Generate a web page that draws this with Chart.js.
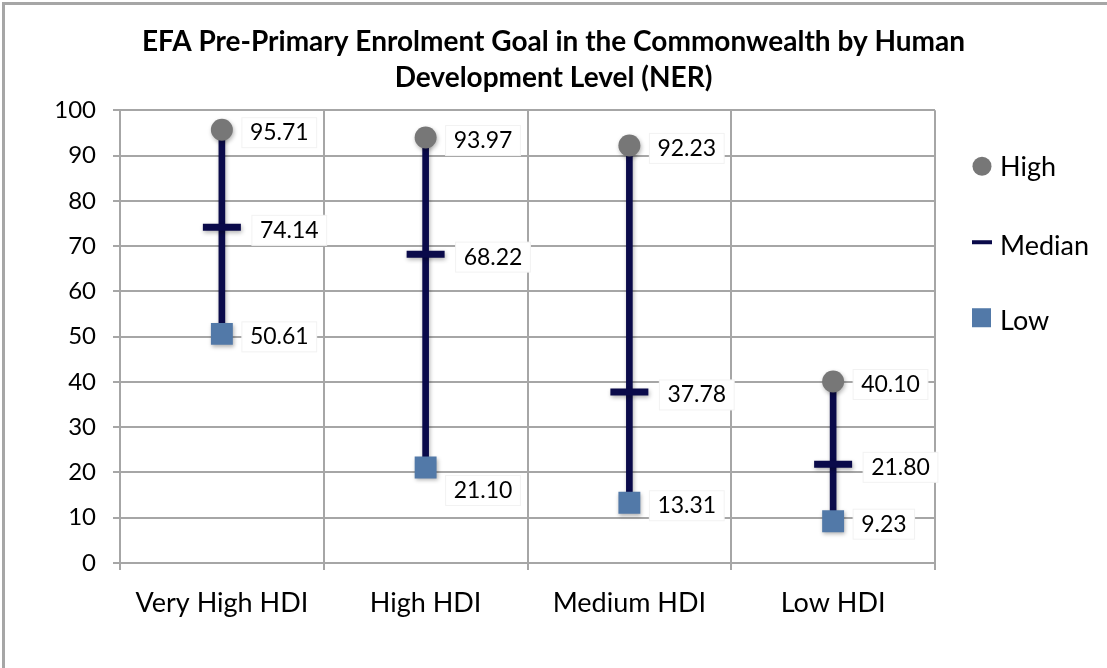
<!DOCTYPE html>
<html>
<head>
<meta charset="utf-8">
<script src="https://cdn.jsdelivr.net/npm/chart.js@4/dist/chart.umd.min.js"></script>
<style>
  html, body { margin: 0; padding: 0; background: #fff; overflow: hidden; }
  #frame {
    position: absolute; left: 2px; top: 2px; width: 1200px; height: 800px;
    border-top: 3px solid #a6a6a6; border-left: 3px solid #a6a6a6;
  }
  #chart { position: absolute; left: 0; top: 0; }
</style>
</head>
<body>
<div id="frame"></div>
<canvas id="chart" width="1107" height="668"></canvas>
<script>
// données
const categories = ['Very High HDI', 'High HDI', 'Medium HDI', 'Low HDI'];
const highValues = [95.71, 93.97, 92.23, 40.10];
const medianValues = [74.14, 68.22, 37.78, 21.80];
const lowValues = [50.61, 21.10, 13.31, 9.23];
const yMin = 0, yMax = 100, yStep = 10;

const NAVY = '#0a0a4a';
const GREY = '#777777';
const BLUE = '#5279a8';
const GRID = '#a6a6a6';
const FONT = 'Lato, "Open Sans", sans-serif';

// ombre légère sous les marqueurs
const softShadow = {
  id: 'softShadow',
  beforeDatasetsDraw(chart) {
    const c = chart.ctx;
    c.save();
    c.shadowColor = 'rgba(0, 0, 0, 0.3)';
    c.shadowBlur = 4;
    c.shadowOffsetX = 1;
    c.shadowOffsetY = 2;
  },
  afterDatasetsDraw(chart) {
    chart.ctx.restore();
  }
};

// étiquettes de valeurs avec fond blanc
const valueLabels = {
  id: 'valueLabels',
  afterDatasetsDraw(chart) {
    const ctx = chart.ctx;
    ctx.save();
    ctx.font = '23px ' + FONT;
    ctx.textBaseline = 'middle';
    chart.data.datasets.forEach((ds, di) => {
      if (ds.type === 'bar') return;
      const meta = chart.getDatasetMeta(di);
      meta.data.forEach((pt, i) => {
        const txt = ds.data[i].toFixed(2);
        let x = pt.x + (ds.label === 'Median' ? 38 : 28);
        let y = pt.y + 3;
        // 21.10 est poussé sous le point
        if (ds.label === 'Low' && i === 1) y = pt.y + 23;
        const w = ctx.measureText(txt).width;
        ctx.fillStyle = '#ffffff';
        ctx.fillRect(x - 8, y - 15, w + 16, 30);
        ctx.strokeStyle = '#f2f2f2';
        ctx.lineWidth = 1;
        ctx.strokeRect(x - 8, y - 15, w + 16, 30);
        ctx.fillStyle = '#000';
        ctx.fillText(txt, x, y);
      });
    });
    ctx.restore();
  }
};

// légende à droite
const sideLegend = {
  id: 'sideLegend',
  afterDraw(chart) {
    const ctx = chart.ctx;
    const a = chart.chartArea;
    const mx = a.right + 47;
    const tx = a.right + 65;
    const rows = [
      { label: 'High', y: a.top + 57 },
      { label: 'Median', y: a.top + 136 },
      { label: 'Low', y: a.top + 211 }
    ];
    ctx.save();
    rows.forEach(r => {
      if (r.label === 'High') {
        ctx.fillStyle = GREY;
        ctx.beginPath();
        ctx.arc(mx, r.y - 1, 9.5, 0, Math.PI * 2);
        ctx.fill();
      } else if (r.label === 'Median') {
        ctx.fillStyle = NAVY;
        ctx.fillRect(mx - 10, r.y - 6, 20, 4);
      } else {
        ctx.fillStyle = BLUE;
        ctx.fillRect(mx - 10, r.y - 13, 19, 19);
      }
      ctx.fillStyle = '#000';
      ctx.font = '27px ' + FONT;
      ctx.textBaseline = 'middle';
      ctx.fillText(r.label, tx, r.y);
    });
    ctx.restore();
  }
};

const ctx = document.getElementById('chart').getContext('2d');
new Chart(ctx, {
  data: {
    labels: categories,
    datasets: [
      {
        type: 'scatter',
        label: 'High',
        data: highValues,
        showLine: false,
        pointStyle: 'circle',
        pointRadius: 11,
        pointHoverRadius: 11,
        pointBackgroundColor: GREY,
        pointBorderWidth: 0,
        order: 1
      },
      {
        type: 'scatter',
        label: 'Median',
        data: medianValues,
        showLine: false,
        pointStyle: 'line',
        pointRadius: 19,
        pointHoverRadius: 19,
        pointBorderColor: NAVY,
        pointBorderWidth: 7,
        order: 2
      },
      {
        type: 'scatter',
        label: 'Low',
        data: lowValues,
        showLine: false,
        pointStyle: 'rect',
        pointRadius: 15.5,
        pointHoverRadius: 15.5,
        pointBackgroundColor: BLUE,
        pointBorderWidth: 0,
        order: 0
      },
      {
        type: 'bar',
        label: 'range',
        data: lowValues.map((lo, i) => [lo, highValues[i]]),
        backgroundColor: NAVY,
        barThickness: 6,
        order: 5
      }
    ]
  },
  options: {
    responsive: false,
    animation: false,
    devicePixelRatio: 1,
    layout: { padding: 0 },
    plugins: {
      legend: { display: false },
      tooltip: { enabled: false },
      title: {
        display: true,
        text: ['EFA Pre-Primary Enrolment Goal in the Commonwealth by Human', 'Development Level (NER)'],
        color: '#000',
        font: { family: FONT, size: 28, weight: 'bold', lineHeight: 1.29 },
        padding: { top: 24, bottom: 14 }
      }
    },
    scales: {
      x: {
        type: 'category',
        offset: true,
        grid: { offset: true, color: GRID, lineWidth: 2, tickLength: 7 },
        border: { color: GRID, width: 2 },
        ticks: { color: '#000', font: { family: FONT, size: 27 }, padding: 17 },
        afterFit(scale) { scale.height = 105; }
      },
      y: {
        min: yMin,
        max: yMax,
        ticks: { stepSize: yStep, color: '#000', font: { family: FONT, size: 24 }, padding: 17 },
        grid: { color: GRID, lineWidth: 2, tickLength: 7 },
        border: { color: GRID, width: 2 },
        afterFit(scale) { scale.width = 120; }
      },
      // place réservée à la légende
      legendSpace: {
        type: 'linear',
        position: 'right',
        display: true,
        grid: { display: false, drawTicks: false },
        border: { display: false },
        ticks: { display: false },
        afterFit(scale) { scale.width = 172; }
      }
    }
  },
  plugins: [softShadow, valueLabels, sideLegend]
});
</script>
</body>
</html>
